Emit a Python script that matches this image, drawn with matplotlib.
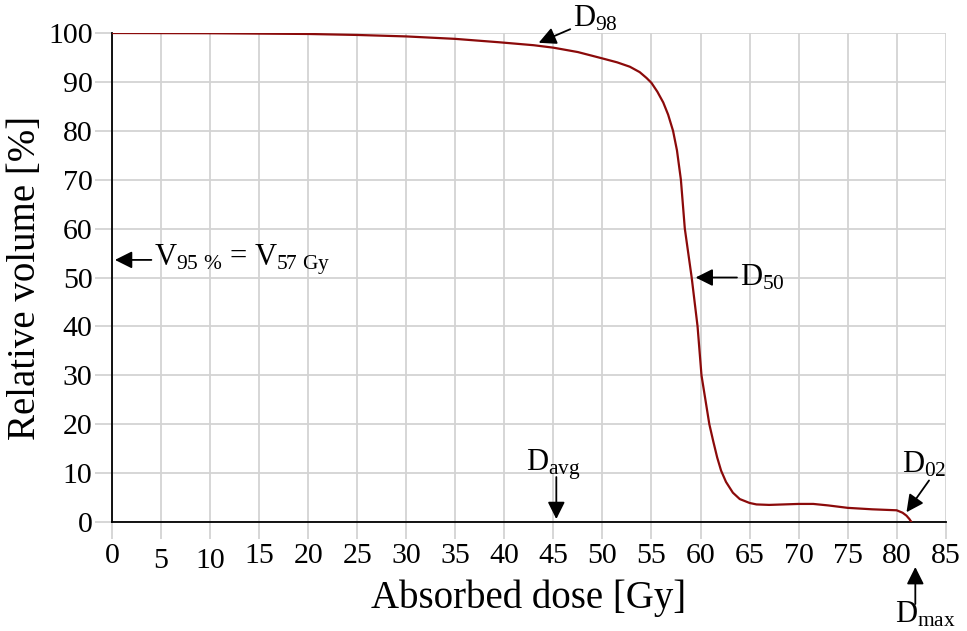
import numpy as np
import matplotlib
matplotlib.use("Agg")
import matplotlib.pyplot as plt
import matplotlib.transforms as mtransforms

plt.rcParams['font.family'] = ['Liberation Serif', 'DejaVu Serif']
plt.rcParams['mathtext.fontset'] = 'custom'
plt.rcParams['mathtext.rm'] = 'Liberation Serif'
plt.rcParams['mathtext.it'] = 'Liberation Serif'

# DVH curve: dose [Gy], relative volume [%]
dose = [0, 10, 20, 25, 30, 35, 39.5, 43, 45, 47.5, 50, 51.5, 52.8, 53.8, 54.5,
        55, 55.6, 56.2, 56.7, 57.2, 57.6, 58.0, 58.4, 58.75, 59.1, 59.4, 59.7,
        60.1, 60.5, 60.9, 61.3, 61.7, 62.1, 62.6, 63.3, 64, 65, 65.7, 67, 68.5,
        70, 71.5, 73, 75, 77.5, 80, 80.6, 81, 81.3, 81.5]
volume = [100, 99.95, 99.8, 99.6, 99.3, 98.8, 98.1, 97.5, 97.0, 96.1, 94.8,
          94.0, 93.1, 92.0, 90.8, 89.8, 88.0, 85.8, 83.3, 80.0, 76.0, 70.0,
          60.0, 55.0, 50.0, 45.0, 40.0, 30.0, 25.0, 20.0, 16.5, 13.2, 10.5, 8.2,
          6.0, 4.7, 3.9, 3.6, 3.5, 3.6, 3.7, 3.7, 3.4, 2.9, 2.6, 2.4, 1.9, 1.3,
          0.6, 0.0]

xticks = list(range(0, 90, 5))
yticks = list(range(0, 110, 10))

fig = plt.figure(figsize=(9.67, 6.31), dpi=100)
ax = fig.add_axes([0.1158, 0.1727, 0.978 - 0.1158, 0.9477 - 0.1727])

ax.plot(dose, volume, color='#8b0a0a', lw=1.6, zorder=3, solid_joinstyle='round')

ax.set_xlim(0, 85)
ax.set_ylim(0, 100)
ax.set_xticks(xticks)
ax.set_yticks(yticks)
ax.grid(True, color='#d3d3d3', lw=1.3, zorder=0)
ax.set_axisbelow(True)
for s in ['top', 'right']:
    ax.spines[s].set_visible(False)
ax.spines['left'].set_linewidth(1.3)
ax.spines['bottom'].set_linewidth(1.3)
ax.tick_params(axis='both', length=12, width=1.3, color='#d3d3d3', labelsize=21.5, pad=2)
ax.tick_params(axis='x', pad=3)

# the 5 and 10 labels sit a little lower in the original
for i, lab in enumerate(ax.get_xticklabels()):
    if xticks[i] in (5, 10):
        lab.set_transform(lab.get_transform() + mtransforms.ScaledTranslation(0, -5 / 100, fig.dpi_scale_trans))

ax.set_xlabel('Absorbed dose [Gy]', fontsize=28, labelpad=4)
ax.set_ylabel('Relative volume [%]', fontsize=28, labelpad=3)

arr = dict(arrowstyle='-|>', color='black', lw=1.3, mutation_scale=26, shrinkA=0, shrinkB=0)
fs = 22

ax.annotate(r'V$_{\mathregular{95\ \%}}$ = V$_{\mathregular{57\ Gy}}$', xy=(0.3, 53.6), xytext=(4.3, 53.6),
            fontsize=fs, va='center', ha='left', arrowprops=arr, annotation_clip=False)
ax.annotate(r'D$_{\mathregular{98}}$', xy=(43.5, 98.0), xytext=(47.0, 103.0),
            fontsize=fs, va='center', ha='left', arrowprops=arr, annotation_clip=False)
ax.annotate(r'D$_{\mathregular{50}}$', xy=(59.5, 50.0), xytext=(64.0, 50.0),
            fontsize=fs, va='center', ha='left', arrowprops=arr, annotation_clip=False)
ax.annotate('', xy=(45.3, 0.6), xytext=(45.3, 9.2), arrowprops=arr, annotation_clip=False)
ax.text(45.0, 11.8, r'D$_{\mathregular{avg}}$', fontsize=fs, ha='center', va='center')
ax.annotate('', xy=(81.0, 2.0), xytext=(83.3, 8.5), arrowprops=arr, annotation_clip=False)
ax.text(82.8, 11.8, r'D$_{\mathregular{02}}$', fontsize=fs, ha='center', va='center')

# Dmax sits under the tick labels: arrow in pixels below the axis line
x_max, y0 = ax.transData.transform((81.9, 0))
fig.add_artist(matplotlib.patches.FancyArrowPatch((x_max, y0 - 82), (x_max, y0 - 45),
               transform=None, arrowstyle='-|>', color='black', lw=1.3, mutation_scale=26,
               shrinkA=0, shrinkB=0))
ax.text(79.8, -20.5, r'D$_{\mathregular{max}}$', fontsize=fs, ha='left', va='baseline', clip_on=False)

fig.savefig('out.png', dpi=100)
